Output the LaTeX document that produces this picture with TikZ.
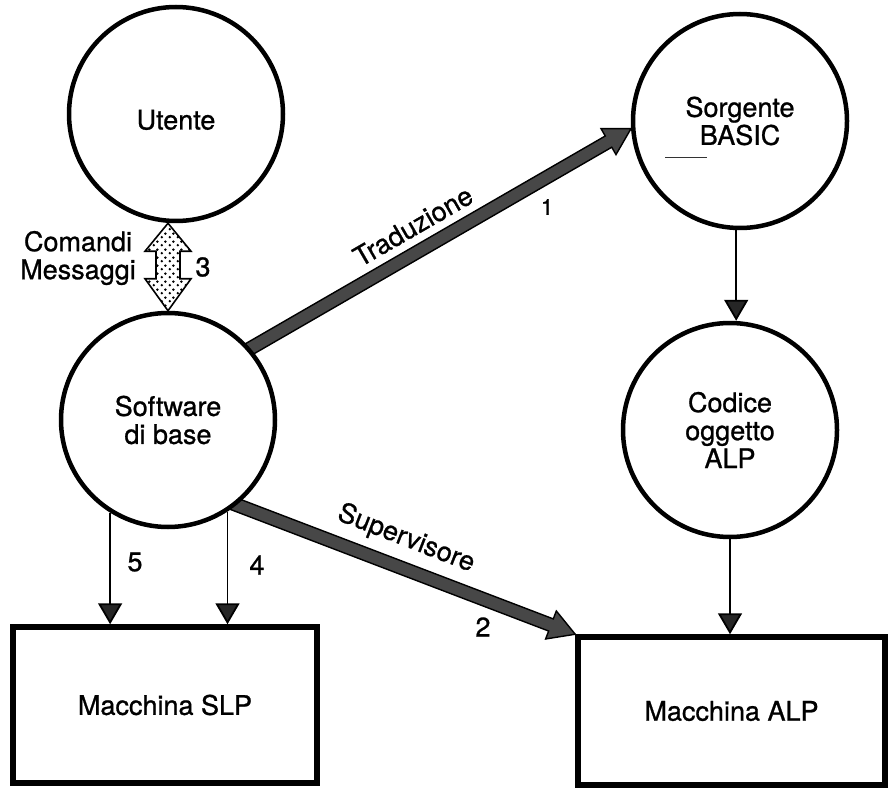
\documentclass[tikz,border=0pt]{standalone}
\usepackage{fontspec}
\setmainfont[FakeBold=0.9]{TeX Gyre Heros}
\usetikzlibrary{arrows.meta,calc,patterns,backgrounds}

% sparse staggered dots for the two-way arrow
\pgfdeclarepatternformonly{sparsedots}{\pgfpoint{0pt}{0pt}}{\pgfpoint{8pt}{8pt}}{\pgfpoint{8pt}{8pt}}{%
  \pgfpathcircle{\pgfpoint{2pt}{2pt}}{1.5pt}%
  \pgfpathcircle{\pgfpoint{6pt}{6pt}}{1.5pt}%
  \pgfusepath{fill}}

% broad arrow from #1 to the tip #2 (the tail is hidden under the start node)
\newcommand{\fatarrow}[2]{%
  \coordinate (fa-s) at ($(#1)!-12pt!(#2)$);
  \coordinate (fa-h) at ($(#2)!26pt!(#1)$);
  \filldraw[broad] ($(fa-s)!6.5pt!90:(#2)$) -- ($(fa-h)!6.5pt!-90:(fa-s)$)
    -- ($(fa-h)!15pt!-90:(fa-s)$) -- (#2) -- ($(fa-h)!15pt!90:(fa-s)$)
    -- ($(fa-h)!6.5pt!90:(fa-s)$) -- ($(fa-s)!6.5pt!-90:(#2)$) -- cycle;}

\tikzset{
  txt/.style={font=\fontsize{27}{28}\selectfont, align=center, inner sep=0pt},
  proc/.style={txt, circle, draw, line width=4.5pt, fill=white, minimum size=214pt},
  machine/.style={txt, draw, line width=5.5pt, fill=white},
  flow/.style={line width=1.8pt, -{Triangle[width=24pt,length=21pt,fill=black!85]}},
  broad/.style={fill=black!72, draw=black, line width=1.4pt, line join=miter},
  num/.style={txt},
}

\begin{document}
\begin{tikzpicture}[x=1pt,y=-1pt]
\useasboundingbox (0,0) rectangle (890,791);

% processes
\node[proc, text height=31pt, text depth=0pt] (ut) at (176,114) {Utente};
\node[proc] (sw) at (168,420) {Software\\di base};
\node[proc] (sg) at (740,121) {Sorgente\\BASIC};
\node[proc] (cd) at (730,430) {Codice\\oggetto\\ALP};

% machines
\node[machine, minimum width=304pt, minimum height=156pt] (slp) at (165,705) {Macchina SLP};
\node[machine, minimum width=307pt, minimum height=148pt] (alp) at (731.5,711) {Macchina ALP};

% thin flows
\draw[flow] (sg.268) -- (sg.268 |- cd.north);
\draw[flow] (cd.south) -- (cd.south |- alp.north);
\draw[flow] (sw.238) -- (sw.238 |- slp.north);
\draw[flow] (sw.303) -- (sw.303 |- slp.north);

% two-way arrow between user and system software
\coordinate (dt) at (sw.north |- ut.south);
\coordinate (db) at (sw.north);
\draw[line width=1.6pt, pattern=sparsedots, line join=miter]
  (dt) -- ++(23,28) -- ++(-11,0) -- ($(db)+(12,-32)$) -- ++(11,0) -- (db)
  -- ++(-23,-32) -- ++(11,0) -- ($(dt)+(-12,28)$) -- ++(-11,0) -- cycle;

% broad arrows
\begin{pgfonlayer}{background}
  \fill[white] (0,0) rectangle (890,791);
  \fatarrow{sw.41}{sg.184}
  \fatarrow{sw.309}{alp.north west}
\end{pgfonlayer}

% labels
\node[txt] (cm) at (78,258) {Comandi\\Messaggi};
\node[num] (n3) at (203,267) {3};
\node[num] (n5) at (135,562) {5};
\node[num] (n4) at (257,565) {4};
\node[txt, rotate=30] (tr) at (413,226) {Traduzione};
\node[txt, rotate=-21.3] (su) at (406,539) {Supervisore};
\node[num, font=\fontsize{22}{24}\selectfont] (n1) at (547,207) {1};
\node[num] (n2) at (483,627) {2};

% short stroke under BASIC
\draw[line width=1pt, black!80] (665,158) -- (707,158);
\end{tikzpicture}
\end{document}
